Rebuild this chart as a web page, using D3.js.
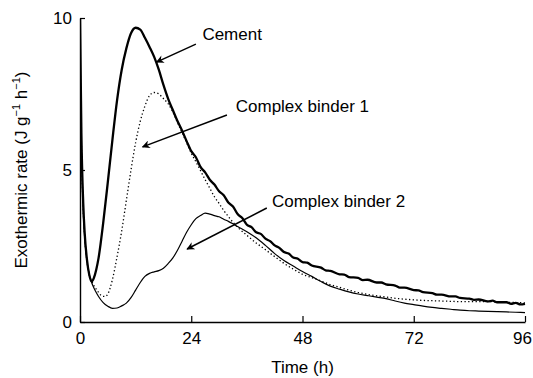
<!DOCTYPE html>
<html>
<head>
<meta charset="utf-8">
<script src="https://cdn.jsdelivr.net/npm/d3@7"></script>
<style>
body { margin: 0; background: #fff; }
text { font-family: "Liberation Sans", Arial, sans-serif; }
</style>
</head>
<body>
<script>
// data: [time (h), exothermic rate]
var cement = [[0,10.0],[0.3,6.2],[0.7,3.9],[1,2.95],[1.5,2.05],[2,1.55],[2.5,1.33],[3,1.45],[3.5,1.72],[4,2.1],[5,3.25],[6,4.6],[7,6.0],[8,7.3],[9,8.3],[10,9.0],[11,9.5],[12,9.68],[13,9.62],[14,9.35],[15,9.05],[16,8.72],[17,8.3],[18,7.8],[19,7.35],[20,6.98],[21,6.62],[22,6.3],[23,5.95],[24,5.62],[25,5.42],[26,5.1],[27,4.92],[28,4.68],[29,4.52],[30,4.3],[31,4.17],[32,3.93],[33,3.8],[34,3.55],[35,3.42],[36,3.2],[37,3.12],[38,2.95],[39,2.9],[40,2.74],[41,2.66],[42,2.52],[43,2.44],[44,2.3],[45,2.25],[46,2.12],[47,2.08],[48,1.97],[49,1.95],[50,1.86],[52,1.79],[53,1.7],[54,1.68],[56,1.57],[57,1.56],[58,1.48],[60,1.45],[61,1.38],[62,1.39],[64,1.3],[65,1.3],[66,1.24],[68,1.2],[69,1.13],[70,1.13],[72,1.05],[73,1.04],[74,0.98],[76,0.95],[77,0.9],[78,0.9],[80,0.84],[81,0.84],[82,0.79],[84,0.77],[85,0.73],[86,0.74],[88,0.68],[89,0.7],[90,0.65],[92,0.65],[93,0.6],[94,0.63],[95,0.58],[96,0.6]];

var binder1 = [[0,9.2],[0.3,5.9],[0.7,3.7],[1,2.85],[1.5,2.0],[2,1.55],[2.5,1.35],[3,1.2],[3.5,1.08],[4,0.97],[5,0.84],[5.5,0.84],[6,0.92],[7,1.4],[8,2.15],[9,3.0],[10,4.0],[11,5.0],[12,5.9],[13,6.6],[14,7.1],[15,7.45],[16,7.55],[17,7.5],[18,7.35],[19,7.18],[20,6.92],[21,6.57],[22,6.24],[23,5.9],[24,5.55],[25,5.27],[26,4.98],[27,4.68],[28,4.4],[29,4.12],[30,3.9],[31,3.67],[32,3.47],[33,3.28],[34,3.12],[36,2.85],[38,2.6],[40,2.38],[42,2.15],[44,1.93],[46,1.74],[48,1.57],[50,1.46],[52,1.35],[54,1.23],[56,1.14],[58,1.05],[60,0.97],[62,0.91],[64,0.86],[66,0.82],[68,0.78],[70,0.75],[72,0.73],[74,0.71],[76,0.7],[78,0.69],[80,0.68],[82,0.67],[84,0.67],[86,0.67],[88,0.67],[90,0.66],[92,0.65],[94,0.64],[96,0.63]];

var binder2 = [[0,8.8],[0.3,5.7],[0.7,3.6],[1,2.8],[1.5,2.0],[2,1.55],[2.5,1.3],[3,1.12],[3.5,0.97],[4,0.84],[5,0.64],[6,0.52],[7,0.45],[8,0.46],[9,0.53],[10,0.62],[11,0.8],[12,1.05],[13,1.3],[14,1.5],[15,1.6],[16,1.65],[17,1.69],[18,1.77],[19,1.92],[20,2.1],[21,2.35],[22,2.65],[23,2.95],[24,3.2],[25,3.4],[26,3.5],[27,3.58],[28,3.55],[29,3.5],[30,3.46],[31,3.38],[32,3.31],[33,3.23],[34,3.14],[36,2.97],[38,2.77],[40,2.52],[42,2.25],[44,2.02],[46,1.84],[48,1.66],[50,1.5],[52,1.33],[54,1.18],[56,1.08],[58,0.99],[60,0.92],[62,0.87],[64,0.82],[66,0.77],[68,0.69],[70,0.62],[72,0.57],[74,0.52],[76,0.48],[78,0.45],[80,0.42],[82,0.39],[84,0.37],[86,0.36],[88,0.35],[90,0.34],[92,0.33],[94,0.32],[96,0.31]];

var xTicks = [0, 24, 48, 72, 96];
var yTicks = [0, 5, 10];

// labels with arrow: text anchor and arrow start/end, in data units
var labels = ["Cement", "Complex binder 1", "Complex binder 2"];
var labelAt = [[26.4, 9.26], [33.6, 6.9], [41.4, 3.78]];
var arrowFrom = [[25.0, 9.14], [31.7, 6.81], [40.3, 3.75]];
var arrowTo = [[16.5, 8.55], [13.5, 5.76], [23.1, 2.4]];

var w = 533, h = 378;
var margin = {left: 80, right: 8, top: 18, bottom: 56};

var svg = d3.select("body").append("svg").attr("width", w).attr("height", h);

var x = d3.scaleLinear().domain([0, 96]).range([margin.left, w - margin.right]);
var y = d3.scaleLinear().domain([0, 10]).range([h - margin.bottom, margin.top]);

svg.append("defs").append("clipPath").attr("id", "clip")
    .append("rect")
    .attr("x", margin.left).attr("y", margin.top - 1)
    .attr("width", w - margin.left - margin.right + 2)
    .attr("height", h - margin.top - margin.bottom + 1);

svg.select("defs").append("marker")
    .attr("id", "arrow")
    .attr("viewBox", "0 0 10 10")
    .attr("refX", 9).attr("refY", 5)
    .attr("markerWidth", 10).attr("markerHeight", 8)
    .attr("markerUnits", "userSpaceOnUse")
    .attr("orient", "auto")
    .append("path").attr("d", "M0,0 L10,5 L0,10 L3,5 Z").attr("fill", "#000");

var line = d3.line()
    .x(function(d){ return x(d[0]); })
    .y(function(d){ return y(d[1]); })
    .curve(d3.curveMonotoneX);

var g = svg.append("g").attr("clip-path", "url(#clip)");

g.append("path").datum(binder2)
    .attr("d", line).attr("fill", "none")
    .attr("stroke", "#000").attr("stroke-width", 1.2);

g.append("path").datum(binder1)
    .attr("d", line).attr("fill", "none")
    .attr("stroke", "#000").attr("stroke-width", 1.3)
    .attr("stroke-dasharray", "1.3,2.4");

g.append("path").datum(cement)
    .attr("d", line).attr("fill", "none")
    .attr("stroke", "#000").attr("stroke-width", 2.3)
    .attr("stroke-linejoin", "round");

// axes
var xAxis = d3.axisBottom(x).tickValues(xTicks).tickSizeInner(-6).tickSizeOuter(0).tickPadding(10);
var yAxis = d3.axisLeft(y).tickValues(yTicks).tickSizeInner(-5).tickSizeOuter(0).tickPadding(8);

var gx = svg.append("g").attr("transform", "translate(0," + y(0) + ")").call(xAxis);
var gy = svg.append("g").attr("transform", "translate(" + x(0) + ",0)").call(yAxis);

[gx, gy].forEach(function(a){
    a.selectAll("path").attr("stroke-width", 1.4);
    a.selectAll("line").attr("stroke-width", 1.2);
    a.selectAll("text").attr("font-size", 17).attr("fill", "#000")
        .attr("font-family", "'Liberation Sans', Arial, sans-serif");
});
// keep the last tick label inside the page
gx.selectAll("text").filter(function(d){ return d === 96; }).attr("dx", -3);

svg.append("text")
    .attr("x", x(48)).attr("y", 373)
    .attr("text-anchor", "middle").attr("font-size", 17)
    .text("Time (h)");

var yt = svg.append("text")
    .attr("transform", "translate(27," + ((y(0) + y(10)) / 2) + ") rotate(-90)")
    .attr("text-anchor", "middle").attr("font-size", 17);
yt.append("tspan").text("Exothermic rate (J g");
yt.append("tspan").attr("font-size", 11).attr("dy", -7).text("\u22121");
yt.append("tspan").attr("dy", 7).text(" h");
yt.append("tspan").attr("font-size", 11).attr("dy", -7).text("\u22121");
yt.append("tspan").attr("dy", 7).text(")");

// annotations
labels.forEach(function(t, i){
    svg.append("text")
        .attr("x", x(labelAt[i][0])).attr("y", y(labelAt[i][1]))
        .attr("font-size", 17).text(t);
    svg.append("line")
        .attr("x1", x(arrowFrom[i][0])).attr("y1", y(arrowFrom[i][1]))
        .attr("x2", x(arrowTo[i][0])).attr("y2", y(arrowTo[i][1]))
        .attr("stroke", "#000").attr("stroke-width", 1.5)
        .attr("marker-end", "url(#arrow)");
});
</script>
</body>
</html>
